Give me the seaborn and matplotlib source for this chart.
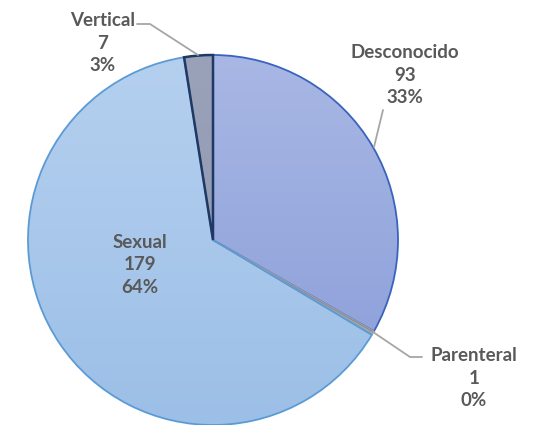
import numpy as np
import matplotlib
matplotlib.use("Agg")
import matplotlib.pyplot as plt
import seaborn as sns
from matplotlib.colors import LinearSegmentedColormap

categories = ["Desconocido", "Parenteral", "Sexual", "Vertical"]
counts = [93, 1, 179, 7]

sns.set_theme(style="white")
plt.rcParams["font.family"] = ["Lato", "DejaVu Sans"]

W, H = 535, 425
fig = plt.figure(figsize=(W / 100, H / 100), dpi=100)
ax = fig.add_axes([0, 0, 1, 1])

cx, cy, r = 213, H - 240, 185
edge_colors = ["#3A63BE", "#A0A0A0", "#5B9BD5", "#1F3864"]
edge_widths = [1.3, 1.0, 1.3, 1.8]
grad = {
    0: ("#A8B7E4", "#889CD8"),
    1: ("#B0B0B0", "#A0A0A0"),
    2: ("#B5D0EF", "#9CBFE7"),
    3: ("#9AA2B9", "#8D97B0"),
}

wedges, _ = ax.pie(counts, startangle=90, counterclock=False, center=(cx, cy),
                   radius=r, frame=True,
                   wedgeprops=dict(facecolor="none", linewidth=0))

# gradient fills clipped to each wedge, outlines drawn on top
yy = np.linspace(1, 0, 256).reshape(-1, 1)
for i, w in enumerate(wedges):
    cmap = LinearSegmentedColormap.from_list(f"g{i}", [grad[i][1], grad[i][0]])
    im = ax.imshow(yy, cmap=cmap, extent=(cx - r, cx + r, cy - r, cy + r),
                   aspect="auto", zorder=1, interpolation="bilinear")
    im.set_clip_path(w)
for i, w in enumerate(wedges):
    w.set_zorder(2)
    w.set_edgecolor(edge_colors[i])
    w.set_linewidth(edge_widths[i])

ax.set_xlim(0, W)
ax.set_ylim(0, H)
ax.set_aspect("equal")
ax.axis("off")

total = sum(counts)
label_pos = {
    "Desconocido": (405, 75),
    "Parenteral": (474, 378),
    "Sexual": (140, 265),
    "Vertical": (103, 43),
}
for name, n in zip(categories, counts):
    x, y = label_pos[name]
    pct = int(100 * n / total + 0.5)
    ax.text(x, H - y, f"{name}\n{n}\n{pct}%", ha="center", va="center",
            fontsize=13.5, fontweight="bold", color="#595959",
            linespacing=1.38, zorder=5)

# leader lines
lc = "#A6A6A6"
ax.plot([137, 150, 198], [H - 24, H - 24, H - 55], color=lc, lw=1.3, zorder=4)
ax.plot([383, 374], [H - 110, H - 147], color=lc, lw=1.3, zorder=4)
ax.plot([373, 410, 422], [H - 332, H - 357, H - 357], color=lc, lw=1.3, zorder=4)

fig.savefig("out.png", dpi=100)
